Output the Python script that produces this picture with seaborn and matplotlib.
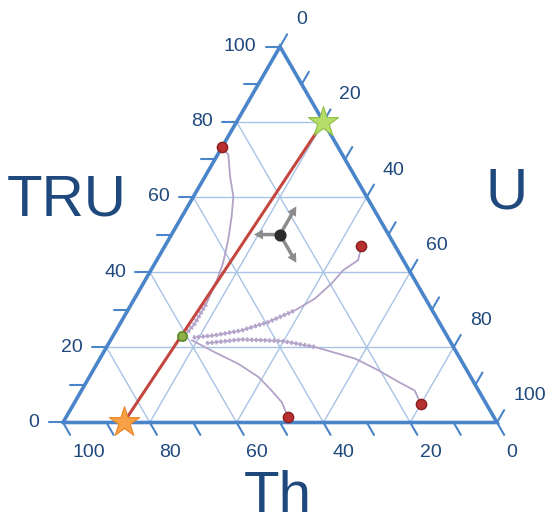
import numpy as np
import pandas as pd
import matplotlib
matplotlib.use("Agg")
import matplotlib.pyplot as plt
from matplotlib.patches import FancyArrowPatch
import seaborn as sns

# Compositions in percent: TRU and U are given, Th = 100 - TRU - U
tick_values = list(range(0, 101, 10))
label_values = [0, 20, 40, 60, 80, 100]
grid_values = [20, 40, 60, 80]

# Evolution paths, listed from the mixing point outwards
path_a_tru = [23.2, 26.3, 31.7, 37.9, 42.3, 48.5, 54.7, 60.1, 65.4, 71.2, 73.3]
path_a_u = [16.5, 17.2, 17.2, 16.5, 15.7, 13.8, 11.5, 9.2, 5.8, 2.5, 0.0]

path_b_tru = [22.6, 23.2, 24.5, 26.7, 29.9, 33.0, 37.0, 40.5, 43.2, 46.9]
path_b_u = [18.7, 23.4, 28.9, 33.9, 38.6, 41.6, 43.4, 44.3, 46.4, 45.3]

path_c_tru = [21.9, 18.7, 15.6, 12.1, 8.5, 5.4, 1.4]
path_c_u = [18.7, 25.6, 32.6, 39.0, 43.8, 47.7, 51.2]

path_d_tru = [21.1, 22.1, 21.7, 20.1, 17.0, 13.9, 10.8, 8.5, 5.0]
path_d_u = [22.5, 30.1, 39.5, 48.0, 58.8, 65.7, 71.9, 76.8, 79.9]

# End compositions of the paths
end_tru = [73.3, 46.9, 1.4, 5.0]
end_u = [0.0, 45.3, 51.2, 79.9]

# Feed line between the two stars and the mixing point on it
feed_tru = [0.0, 80.0]
feed_u = [14.0, 20.0]
mix_tru = [23.0]
mix_u = [16.0]

# Direction glyph: origin and the three unit moves
glyph_tru, glyph_u = 50.0, 25.0
move_tru = [0.0, 7.5, -7.5]
move_u = [-6.0, 0.0, 7.5]

NAVY = "#1f497d"
EDGE = "#4a85c9"
GRID = "#a9c3e6"
PATH = "#b3a2c8"
H = np.sqrt(3) / 2


def xy(tru, u):
    tru = np.asarray(tru, dtype=float)
    u = np.asarray(u, dtype=float)
    return u + tru / 2, tru * H


sns.set_theme(style="white")
plt.rcParams["font.family"] = ["Liberation Sans", "DejaVu Sans"]

fig = plt.figure(figsize=(5.46, 5.26), dpi=100)
ax = fig.add_axes([0, 0, 1, 1])
ax.set_xlim(-14.52, 111.29)
ax.set_ylim(-23.85, 97.35)
ax.set_aspect("equal")
ax.axis("off")

# Grid lines every 20 %
for k in grid_values:
    for (t0, u0, t1, u1) in [(k, 0, k, 100 - k), (0, k, 100 - k, k), (100 - k, 0, 0, 100 - k)]:
        gx, gy = xy([t0, t1], [u0, u1])
        ax.plot(gx, gy, color=GRID, lw=1.0, zorder=1)

# Evolution paths
paths = [(path_a_tru, path_a_u, 3), (path_b_tru, path_b_u, 5),
         (path_c_tru, path_c_u, 0), (path_d_tru, path_d_u, 4)]
for tru, u, fuzzy in paths:
    px, py = xy(tru, u)
    df = pd.DataFrame({"x": px, "y": py})
    sns.lineplot(data=df, x="x", y="y", sort=False, estimator=None,
                 color=PATH, lw=1.3, ax=ax, zorder=2)
    if fuzzy:
        sns.lineplot(data=df.iloc[:fuzzy], x="x", y="y", sort=False, estimator=None,
                     color=PATH, lw=3.2, ls=(0, (0.5, 0.5)), alpha=0.9, ax=ax, zorder=2)

# Feed line
fx, fy = xy(feed_tru, feed_u)
sns.lineplot(x=fx, y=fy, sort=False, estimator=None, color="#c4473f", lw=2.2, ax=ax, zorder=3)

# Triangle outline
cx, cy = xy([0, 100, 0, 0], [0, 0, 100, 0])
ax.plot(cx, cy, color=EDGE, lw=2.6, solid_joinstyle="miter", zorder=4)

# Ticks and tick labels
TL = 3.3
for k in tick_values:
    # TRU ticks on the left side
    x0, y0 = xy(k, 0)
    ax.plot([x0 - TL, x0], [y0, y0], color=EDGE, lw=1.5, zorder=4)
    # U ticks on the right side
    x1, y1 = xy(100 - k, k)
    ax.plot([x1, x1 + TL * 0.5], [y1, y1 + TL * H], color=EDGE, lw=1.5, zorder=4)
    # Th ticks on the bottom side
    x2, y2 = xy(0, 100 - k)
    ax.plot([x2, x2 + TL * 0.5], [y2, y2 - TL * H], color=EDGE, lw=1.5, zorder=4)

for k in label_values:
    x0, y0 = xy(k, 0)
    ax.text(x0 - 5.5, y0, str(k), ha="right", va="center", fontsize=14, color=NAVY)
    x1, y1 = xy(100 - k, k)
    ax.text(x1 + 3.7, y1 + 6.2, str(k), ha="left", va="center", fontsize=14, color=NAVY)
    x2, y2 = xy(0, 100 - k)
    ax.text(x2 + 2.2, y2 - 6.9, str(k), ha="left", va="center", fontsize=14, color=NAVY)

# Axis titles
ax.text(0.9, 47.8, "TRU", ha="center", va="baseline", fontsize=42, color=NAVY)
ax.text(102.1, 49.4, "U", ha="center", va="baseline", fontsize=42, color=NAVY)
ax.text(49.5, -20.7, "Th", ha="center", va="baseline", fontsize=42, color=NAVY)

# End compositions
ex, ey = xy(end_tru, end_u)
sns.scatterplot(x=ex, y=ey, s=55, color="#b5302e", edgecolor="#8a1f1f", linewidth=1.0,
                ax=ax, zorder=6)

# Mixing point
mx, my = xy(mix_tru, mix_u)
sns.scatterplot(x=mx, y=my, s=45, color="#8db04a", edgecolor="#5f8a2a", linewidth=1.2,
                ax=ax, zorder=6)

# Feed stars
sx, sy = xy(feed_tru, feed_u)
sns.scatterplot(x=sx[:1], y=sy[:1], marker="*", s=520, color="#f7a045", edgecolor="#e8862a",
                linewidth=0.8, ax=ax, zorder=7)
sns.scatterplot(x=sx[1:], y=sy[1:], marker="*", s=520, color="#b5dd6a", edgecolor="#8fbf45",
                linewidth=0.8, ax=ax, zorder=7)

# Direction glyph
ox, oy = xy(glyph_tru, glyph_u)
for dt, du in zip(move_tru, move_u):
    tx, ty = xy(glyph_tru + dt, glyph_u + du)
    ax.add_patch(FancyArrowPatch((float(ox), float(oy)), (float(tx), float(ty)),
                                 arrowstyle="simple,head_length=0.65,head_width=0.7,tail_width=0.25",
                                 facecolor="#8c8c8c", edgecolor="none", lw=0,
                                 mutation_scale=10, shrinkA=0, shrinkB=0, zorder=5))
ax.scatter([ox], [oy], s=60, color="#2b2b2b", zorder=6)

fig.savefig("out.png", dpi=100)
